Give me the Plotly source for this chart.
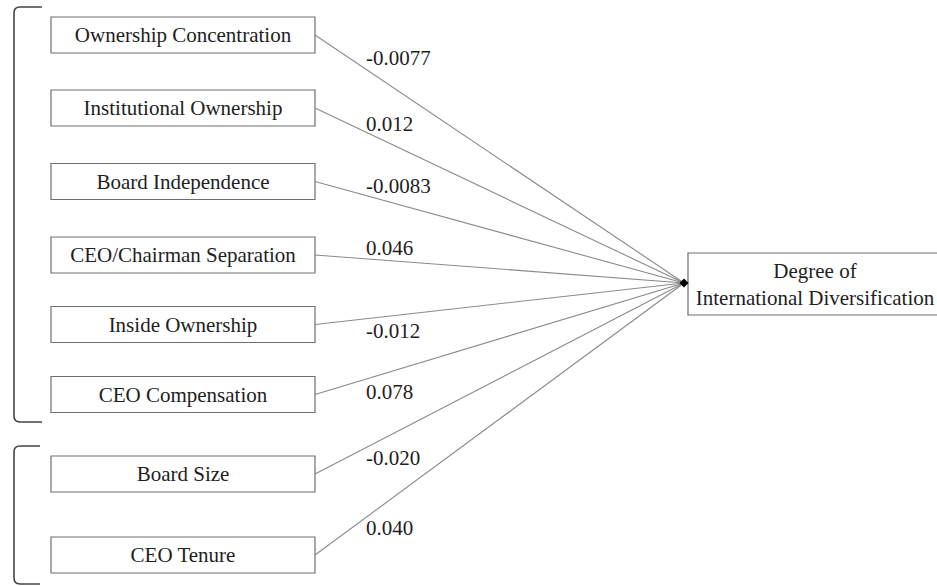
import plotly.graph_objects as go

# ---- data ----
predictors = [
    "Ownership Concentration",
    "Institutional Ownership",
    "Board Independence",
    "CEO/Chairman Separation",
    "Inside Ownership",
    "CEO Compensation",
    "Board Size",
    "CEO Tenure",
]
coefficients = ["-0.0077", "0.012", "-0.0083", "0.046", "-0.012", "0.078", "-0.020", "0.040"]
outcome = "Degree of<br>International Diversification"

# ---- layout (pixel space) ----
W, H = 937, 586
box_centers = [35, 108, 181.5, 255, 324.5, 394.5, 474, 555]
label_y = [60, 126, 188, 250, 333, 394, 460, 530]
box_x0, box_x1, box_h = 51, 315, 36
label_x = 366
tip = (684, 283)
target = dict(x0=688, x1=960, y0=253, y1=315)
outcome_x = 815
text_dy = 2

FONT = "Liberation Serif, Times New Roman, serif"
TXT = "#1e1e1e"
fig = go.Figure()
shapes = []

for name, yc in zip(predictors, box_centers):
    shapes.append(dict(type="rect", xref="x", yref="y", x0=box_x0, x1=box_x1,
                       y0=yc - box_h / 2, y1=yc + box_h / 2,
                       line=dict(color="#6f6f6f", width=1.2), fillcolor="rgba(0,0,0,0)",
                       layer="below"))
    fig.add_trace(go.Scatter(x=[box_x1, tip[0]], y=[yc, tip[1]], mode="lines",
                             line=dict(color="#8a8a8a", width=1.1), hoverinfo="skip",
                             showlegend=False))

fig.add_trace(go.Scatter(
    x=[(box_x0 + box_x1) / 2] * len(predictors), y=[c + text_dy for c in box_centers],
    mode="text", text=predictors, textposition="middle center",
    textfont=dict(family=FONT, size=21, color=TXT),
    cliponaxis=False, showlegend=False, hoverinfo="skip"))

fig.add_trace(go.Scatter(
    x=[label_x] * len(coefficients), y=label_y, mode="text",
    text=coefficients, textposition="middle right",
    textfont=dict(family=FONT, size=21, color=TXT),
    cliponaxis=False, showlegend=False, hoverinfo="skip"))

# arrowhead
fig.add_trace(go.Scatter(x=[tip[0]], y=[tip[1]], mode="markers",
                         marker=dict(symbol="diamond", size=7, color="black"),
                         showlegend=False, hoverinfo="skip"))

# outcome box
shapes.append(dict(type="rect", xref="x", yref="y", **target,
                   line=dict(color="#6f6f6f", width=1.2), fillcolor="rgba(0,0,0,0)",
                   layer="below"))
fig.add_trace(go.Scatter(x=[outcome_x], y=[(target["y0"] + target["y1"]) / 2 + text_dy],
                         mode="text", text=[outcome], textposition="middle center",
                         textfont=dict(family=FONT, size=21, color=TXT),
                         cliponaxis=False, showlegend=False, hoverinfo="skip"))

# brackets
bracket_col = "#444444"
shapes.append(dict(type="path", xref="x", yref="y",
                   path="M 42 7 L 20 7 Q 14 7 14 13 L 14 416 Q 14 422 20 422 L 42 422",
                   line=dict(color=bracket_col, width=1.6)))
shapes.append(dict(type="path", xref="x", yref="y",
                   path="M 40 446 L 20 446 Q 14 446 14 452 L 14 578 Q 14 584 20 584 L 40 584",
                   line=dict(color=bracket_col, width=1.6)))

fig.update_layout(
    width=W, height=H, margin=dict(l=0, r=0, t=0, b=0),
    paper_bgcolor="white", plot_bgcolor="white",
    xaxis=dict(range=[0, W], visible=False, fixedrange=True),
    yaxis=dict(range=[H, 0], visible=False, fixedrange=True),
    shapes=shapes,
)
fig.write_html("out.html", config={"displayModeBar": False},
               post_script="document.body.style.margin='0';document.body.style.overflow='hidden';")
